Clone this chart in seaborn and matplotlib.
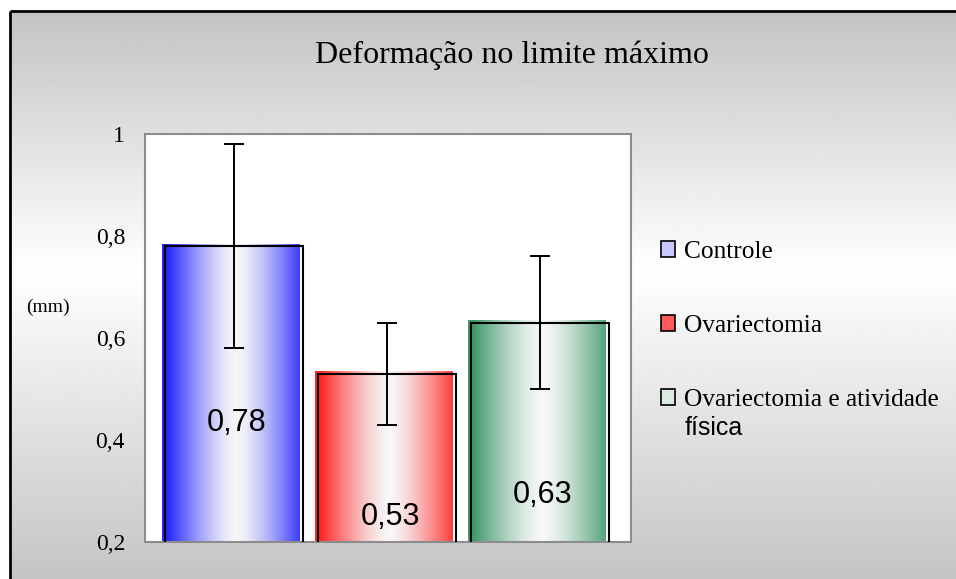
import numpy as np
import matplotlib
matplotlib.use("Agg")
import matplotlib.pyplot as plt
from matplotlib.patches import Patch
from matplotlib.ticker import FuncFormatter
import seaborn as sns

# ---- data ----
groups = ["Controle", "Ovariectomia", "Ovariectomia e atividade"]
means = [0.78, 0.53, 0.63]
errors = [0.20, 0.10, 0.13]
value_labels = ["0,78", "0,53", "0,63"]

# ---- style ----
sns.set_theme(style="white")
plt.rcParams["font.family"] = ["Liberation Serif", "DejaVu Serif"]
plt.rcParams["text.color"] = "black"
plt.rcParams["axes.labelcolor"] = "black"
plt.rcParams["ytick.color"] = "black"
serif = "Liberation Serif"
sans = "Liberation Sans"

dark_cols = [(0.15, 0.15, 1.0), (1.0, 0.15, 0.15), (0.25, 0.60, 0.42)]
legend_cols = ["#c8c8ff", "#ff5a5a", "#dcebe2"]
label_y = [0.433, 0.249, 0.292]

W, H = 956, 579
fig = plt.figure(figsize=(W / 100, H / 100), dpi=100)

# background with vertical gray-white-gray gradient and frame
bg = fig.add_axes([0, 0, 1, 1], zorder=-5)
bg.axis("off")
rows = np.arange(11, H + 1)
shade = np.interp(rows, [11, 270, H], [0.765, 1.0, 0.77])
bg.imshow(np.repeat(shade[:, None], 2, axis=1), cmap="gray", vmin=0, vmax=1,
          extent=(10, W, H, 11), aspect="auto", interpolation="bilinear")
bg.plot([10, 10], [H, 11], color="black", lw=2, solid_capstyle="butt")
bg.plot([10, W], [11, 11], color="black", lw=2, solid_capstyle="butt")
bg.set_xlim(0, W)
bg.set_ylim(H, 0)

# main axes
ax = fig.add_axes([144.5 / W, 1 - 542 / H, (631 - 144.5) / W, (542 - 134) / H])
ax.set_facecolor("white")
sns.barplot(x=groups, y=means, hue=groups, legend=False, ax=ax, width=0.9,
            palette=["none"] * 3, edgecolor="black", linewidth=1.5,
            errorbar=None, zorder=3)
for p in ax.patches:
    p.set_facecolor("none")

# gradient fill for each bar
prof = np.abs(np.linspace(-1, 1, 200) - 0.08)
prof = np.clip(prof, 0, 1) ** 1.4
for p, col in zip(ax.patches, dark_cols):
    x0, w, h = p.get_x(), p.get_width(), p.get_height()
    img = np.ones((1, len(prof), 3))
    for k in range(3):
        img[0, :, k] = 0.97 * (1 - prof) + col[k] * prof
    ax.imshow(img, extent=(x0 - 0.02, x0 + w - 0.02, 0.2, h + 0.004),
              aspect="auto", interpolation="bilinear", zorder=2)

ax.errorbar(x=np.arange(len(groups)), y=means, yerr=errors, fmt="none",
            ecolor="black", elinewidth=1.4, capsize=7.5, capthick=1.4, zorder=4)

for i, (lab, yy) in enumerate(zip(value_labels, label_y)):
    ax.text(i + 0.02, yy, lab, ha="center", va="center", fontsize=22,
            family=sans, color="black", zorder=5)

ax.set_xlim(-0.585, 2.595)
ax.set_ylim(0.2, 1.0)
ax.set_yticks([0.2, 0.4, 0.6, 0.8, 1.0])
ax.yaxis.set_major_formatter(FuncFormatter(lambda v, _: f"{v:g}".replace(".", ",")))
ax.set_xticks([])
ax.set_xlabel("")
ax.tick_params(axis="y", length=0, pad=14, labelsize=17, labelcolor="black")
for lab in ax.get_yticklabels():
    lab.set_family(serif)
for s in ax.spines.values():
    s.set_visible(True)
    s.set_color("#8c8c8c")
    s.set_linewidth(1.5)

ax.set_ylabel("(mm)", rotation=0, fontsize=14, family=serif, ha="center", va="center",
              color="black")
ax.yaxis.set_label_coords(-0.198, 0.574)

fig.text(512 / W, 1 - 55 / H, "Deformação no limite máximo", ha="center", va="center",
         fontsize=23, family=serif, color="black")

handles = [Patch(facecolor=c, edgecolor="black", linewidth=1.2) for c in legend_cols]
leg = fig.legend(handles, groups, loc="upper left", bbox_to_anchor=(661 / W, 1 - 241 / H),
                 frameon=False, prop={"family": serif, "size": 18.3}, handlelength=0.57,
                 handleheight=0.57, handletextpad=0.32, labelspacing=2.05,
                 borderpad=0, borderaxespad=0, labelcolor="black")
fig.text(685 / W, 1 - 428 / H, "física", ha="left", va="center", fontsize=18, family=sans,
         color="black")

fig.savefig("out.png", dpi=100)
